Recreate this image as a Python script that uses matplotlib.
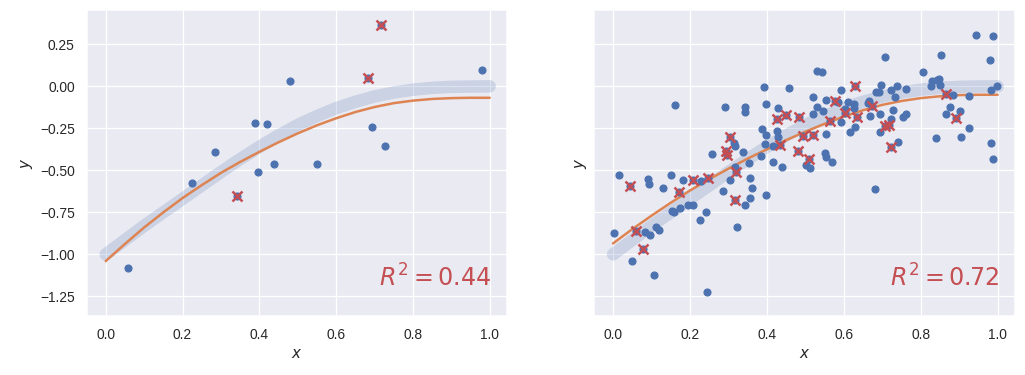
import numpy as np
import matplotlib
matplotlib.use('Agg')
import matplotlib.pyplot as plt
import seaborn as sns

sns.set_theme()
plt.rcParams['font.family'] = ['Liberation Sans', 'DejaVu Sans']

# curves every 0.05 in x
curve_x = [0.0, 0.05, 0.1, 0.15, 0.2, 0.25, 0.3, 0.35, 0.4, 0.45, 0.5,
           0.55, 0.6, 0.65, 0.7, 0.75, 0.8, 0.85, 0.9, 0.95, 1.0]
true_y = [-1.0, -0.915, -0.83, -0.75, -0.67, -0.59, -0.51, -0.433, -0.36, -0.292, -0.23,
          -0.177, -0.13, -0.092, -0.06, -0.037, -0.02, -0.009, -0.003, -0.001, 0.0]
fit_small = [-1.04, -0.938, -0.84, -0.75, -0.665, -0.588, -0.515, -0.45, -0.39, -0.333, -0.28,
             -0.232, -0.19, -0.153, -0.123, -0.10, -0.085, -0.075, -0.07, -0.068, -0.068]
fit_big = [-0.935, -0.85, -0.77, -0.693, -0.62, -0.553, -0.49, -0.43, -0.375, -0.32, -0.27,
           -0.223, -0.18, -0.142, -0.11, -0.087, -0.07, -0.059, -0.052, -0.05, -0.05]

# left panel (15 points)
small_train_x = [0.981, 0.481, 0.390, 0.421, 0.694, 0.728, 0.285, 0.437, 0.551, 0.397, 0.226, 0.059]
small_train_y = [0.095, 0.030, -0.220, -0.226, -0.244, -0.357, -0.393, -0.464, -0.464, -0.512, -0.577, -1.083]
small_test_x = [0.718, 0.684, 0.342]
small_test_y = [0.363, 0.048, -0.655]
small_r2 = 0.44

# right panel (150 points)
big_train_x = [0.016, 0.091, 0.094, 0.130, 0.151, 0.161, 0.183, 0.228, 0.258, 0.286,
               0.292, 0.314, 0.318, 0.318, 0.305, 0.339, 0.343, 0.344, 0.354, 0.356,
               0.362, 0.385, 0.388, 0.393, 0.398, 0.398, 0.396, 0.417, 0.415, 0.426,
               0.428, 0.430, 0.440, 0.458, 0.502, 0.512, 0.521, 0.521, 0.530, 0.544,
               0.531, 0.547, 0.554, 0.555, 0.552, 0.553, 0.570, 0.586, 0.594, 0.594,
               0.604, 0.611, 0.626, 0.626, 0.630, 0.615, 0.663, 0.666, 0.669, 0.681,
               0.684, 0.691, 0.697, 0.694, 0.695, 0.707, 0.723, 0.723, 0.729, 0.732,
               0.739, 0.742, 0.755, 0.762, 0.763, 0.807, 0.827, 0.830, 0.840, 0.843,
               0.847, 0.849, 0.853, 0.866, 0.875, 0.884, 0.903, 0.905, 0.926, 0.926,
               0.944, 0.987, 0.981, 0.984, 0.998, 0.984, 0.989,
               0.356, 0.343, 0.398, 0.322, 0.173, 0.153, 0.159, 0.194, 0.207, 0.242,
               0.226, 0.002, 0.083, 0.096, 0.113, 0.120, 0.049, 0.107, 0.245]
big_train_y = [-0.530, -0.554, -0.582, -0.607, -0.530, -0.113, -0.560, -0.564, -0.405, -0.621,
               -0.125, -0.339, -0.353, -0.482, -0.560, -0.389, -0.125, -0.153, -0.458, -0.548,
               -0.607, -0.417, -0.256, -0.006, -0.107, -0.292, -0.343, -0.452, -0.355, -0.266,
               -0.300, -0.131, -0.480, -0.012, -0.468, -0.488, -0.065, -0.167, 0.091, 0.083,
               -0.125, -0.149, -0.082, -0.286, -0.399, -0.423, -0.452, -0.093, -0.024, -0.213,
               -0.137, -0.093, -0.105, -0.127, -0.244, -0.274, -0.099, -0.086, -0.177, -0.610,
               -0.036, -0.036, 0.006, -0.167, -0.274, 0.173, -0.024, -0.195, -0.143, -0.065,
               0.0, -0.333, -0.185, -0.018, -0.167, 0.083, 0.0, 0.033, -0.310, 0.037,
               0.042, 0.006, 0.184, -0.167, -0.125, -0.054, -0.149, -0.304, -0.060, -0.250,
               0.304, 0.299, 0.155, -0.024, 0.0, -0.339, -0.435,
               -0.667, -0.708, -0.649, -0.839, -0.726, -0.740, -0.750, -0.708, -0.708, -0.750,
               -0.798, -0.875, -0.869, -0.885, -0.839, -0.855, -1.042, -1.125, -1.226]
big_test_x = [0.044, 0.171, 0.209, 0.248, 0.295, 0.297, 0.305, 0.321, 0.426, 0.434,
              0.451, 0.482, 0.484, 0.495, 0.510, 0.521, 0.564, 0.578, 0.602, 0.629,
              0.635, 0.673, 0.706, 0.717, 0.723, 0.867, 0.893, 0.317, 0.059, 0.078]
big_test_y = [-0.593, -0.626, -0.558, -0.548, -0.383, -0.409, -0.304, -0.510, -0.197, -0.348,
              -0.171, -0.383, -0.185, -0.294, -0.435, -0.292, -0.205, -0.088, -0.161, 0.0,
              -0.185, -0.115, -0.236, -0.230, -0.363, -0.046, -0.190, -0.679, -0.861, -0.970]
big_r2 = 0.72

fig = plt.figure(figsize=(1025 / 90, 375 / 90), dpi=90)
ax1 = fig.add_axes([0.0846, 0.1573, 0.41, 0.8167])
ax2 = fig.add_axes([0.5795, 0.1573, 0.4107, 0.8167], sharey=ax1)

panels = [(ax1, fit_small, small_train_x, small_train_y, small_test_x, small_test_y, small_r2),
          (ax2, fit_big, big_train_x, big_train_y, big_test_x, big_test_y, big_r2)]

for ax, fit, trx, tr_y, tsx, tsy, r2 in panels:
    ax.plot(curve_x, true_y, color='C0', alpha=0.2, lw=10, solid_capstyle='round')
    ax.plot(curve_x, fit, color='C1', lw=2)
    ax.plot(trx + tsx, tr_y + tsy, 'o', color='C0', ms=5.5, ls='none')
    ax.plot(tsx, tsy, 'x', color='C3', ms=8, mew=2, ls='none')
    ax.text(0.963, 0.095, '$R^2 = %.2f$' % r2, transform=ax.transAxes,
            ha='right', va='baseline', fontsize=19, color='C3')
    ax.set_xlabel('$x$')
    ax.set_ylabel('$y$')
    ax.set_xlim(-0.0495, 1.045)

ax1.set_ylim(-1.367, 0.456)
ax1.set_yticks([-1.25, -1.0, -0.75, -0.5, -0.25, 0.0, 0.25])
ax2.tick_params(labelleft=False)

fig.savefig('out.png', dpi=90)
